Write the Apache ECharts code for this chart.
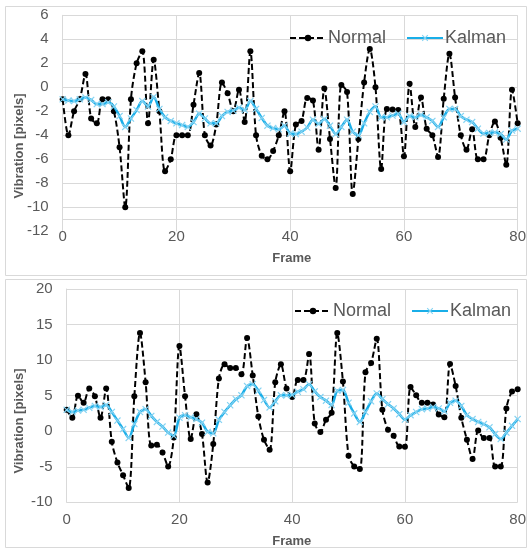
<!DOCTYPE html>
<html>
<head>
<meta charset="utf-8">
<script src="https://cdn.jsdelivr.net/npm/echarts@6/dist/echarts.min.js"></script>
<style>
html,body{margin:0;padding:0;background:#fff;}
#c{width:529px;height:548px;}
</style>
</head>
<body>
<div id="c"></div>
<script>
// Frame index 0..80 is the x value of each point
var topNormal = [-1,-4,-2,-1,1.1,-2.6,-3,-1,-1,-2,-5,-10,-1,2,3,-3,2.3,-2,-7,-6,
  -4,-4,-4,-1.45,1.2,-4,-4.85,-3.1,0.4,-0.5,-2,-0.2,-2.9,3,-4,-5.7,-6,-5.3,-4,-2,
  -7,-3.1,-2.8,-0.9,-1.1,-5.2,-0.1,-4.3,-8.4,0.2,-0.4,-8.9,-4.3,0.4,3.2,0,-6.8,-1.8,-1.85,-1.9,
  -5.75,0.3,-3.3,-0.85,-3.45,-4,-5.8,-0.95,2.8,-0.85,-4,-5.2,-3.5,-6,-6,-4,-2.85,-4.2,-6.45,-0.2,-3];
var topKalman = [-1,-1.1,-1.15,-1.0,-0.85,-1.05,-1.4,-1.4,-1.25,-1.6,-2.4,-3.3,-2.6,-1.9,-1.15,-1.6,-0.8,-1.8,-2.5,-2.8,
  -3.0,-3.15,-3.3,-2.9,-2.2,-2.6,-3.0,-3.0,-2.4,-2.05,-1.95,-1.7,-1.9,-1.15,-1.8,-2.55,-3.2,-3.4,-3.5,-3.2,
  -3.85,-3.9,-3.7,-3.35,-2.7,-3.05,-2.65,-3.2,-3.9,-3.3,-2.7,-3.7,-4.0,-3.0,-2.05,-1.6,-2.5,-2.5,-2.35,-2.2,
  -2.9,-2.4,-2.5,-2.3,-2.5,-2.8,-3.3,-2.5,-1.8,-1.8,-2.4,-2.7,-2.9,-3.45,-3.85,-3.8,-3.75,-3.9,-4.35,-3.6,-3.45];
var botNormal = [3.0,1.9,5,4,6,4.9,1.9,6,-1.5,-4.4,-6.2,-8,4.9,13.8,6.9,-2,-1.9,-3,-4.95,-0.9,
  12,4.9,-1.1,2.4,-0.4,-7.2,-1.8,7.4,9.4,8.9,8.9,8.0,13.1,7.85,2.05,-1.2,-2.6,6.9,9.4,6.0,
  4.8,7.2,7.2,10.85,1.1,-0.1,1.6,2.6,13.8,7.0,-3.45,-4.95,-5.3,8.3,9.6,13.0,3.0,0.2,-0.65,-2.15,
  -2.2,6.2,5.05,4.0,4.0,3.75,2.35,1.95,9.45,6.35,1.9,-1.2,-3.9,0.1,-0.95,-0.95,-4.95,-4.95,3.2,5.6,5.9];
var botKalman = [3.0,2.7,2.9,3.0,3.3,3.55,3.4,3.7,2.7,1.5,0.3,-0.95,1.0,2.7,3.1,2.15,1.3,0.65,-0.2,-0.65,
  1.9,2.25,1.95,1.7,1.2,-0.1,-0.3,1.6,2.7,3.65,4.5,5.05,6.35,6.6,5.7,4.4,3.35,4.2,5.05,5.05,
  5.1,5.55,5.9,6.6,5.6,4.8,4.3,3.7,5.7,5.8,4.0,2.5,1.3,2.7,4.2,5.3,4.5,3.8,3.2,2.4,
  1.65,2.25,2.7,3.1,3.2,3.4,3.2,2.8,4.0,4.3,3.55,2.25,1.7,1.3,1.0,0.55,-0.4,-1.1,-0.2,0.75,1.7];
var seriesNames = ['Normal', 'Kalman'];
var xTitle = 'Frame';
var yTitle = 'Vibration [pixels]';
var topY = {min: -12, max: 6, interval: 2};
var botY = {min: -10, max: 20, interval: 5};
var xRange = {min: 0, max: 80, interval: 20};

function pairs(arr){ return arr.map(function(v,i){ return [i, v]; }); }

var txt = '#595959', grid = '#d9d9d9', font = 'Liberation Sans';
var blue = '#19aee8', blueMark = '#86d3f2';
var xMark = 'path://M0,1.2L1.2,0L5,3.8L8.8,0L10,1.2L6.2,5L10,8.8L8.8,10L5,6.2L1.2,10L0,8.8L3.8,5Z';

function xAxis(gi, margin, showLine){
  return {type:'value', gridIndex:gi, min:xRange.min, max:xRange.max, interval:xRange.interval,
    axisLine:{show:showLine, lineStyle:{color:grid}}, axisTick:{show:false},
    axisLabel:{color:txt, fontSize:15, fontFamily:font, margin:margin},
    splitLine:{show:true, lineStyle:{color:grid, width:1}}};
}
function yAxis(gi, r, colors){
  return {type:'value', gridIndex:gi, min:r.min, max:r.max, interval:r.interval,
    axisLine:{show:true, lineStyle:{color:grid}}, axisTick:{show:false},
    axisLabel:{color:txt, fontSize:15, fontFamily:font, margin:14},
    splitLine:{show:true, lineStyle:{color:colors, width:1}}};
}
var topSplitColors = ['rgba(0,0,0,0)'];
for (var k=0;k<9;k++) topSplitColors.push(grid);

function normalSeries(gi, data, extra){
  var s = {name:seriesNames[0], type:'line', xAxisIndex:gi, yAxisIndex:gi, data:pairs(data),
    smooth:0.3, symbol:'circle', symbolSize:6, showSymbol:true,
    lineStyle:{color:'#000', width:2, type:[6,3]}, itemStyle:{color:'#000'}, z:2};
  if (extra) for (var key in extra) s[key] = extra[key];
  return s;
}
function kalmanSeries(gi, data){
  return {name:seriesNames[1], type:'line', xAxisIndex:gi, yAxisIndex:gi, data:pairs(data),
    smooth:0.3, symbol:xMark, symbolSize:7, showSymbol:true,
    lineStyle:{color:blue, width:2.5}, itemStyle:{color:blueMark}, z:3};
}
function legend(left, top){
  return {left:left, top:top, data:seriesNames, itemWidth:36, itemHeight:8, itemGap:20,
    textStyle:{color:txt, fontSize:18, fontFamily:font, padding:[0,0,0,-3]}, selectedMode:false};
}

var chart = echarts.init(document.getElementById('c'), null, {renderer:'canvas'});
chart.setOption({
  animation:false,
  backgroundColor:'#fff',
  grid:[
    {left:62.7, top:15.3, width:456.3, height:216},
    {left:66.7, top:289, width:451.6, height:213.3}
  ],
  xAxis:[xAxis(0,-2,false), xAxis(1,10,true)],
  yAxis:[yAxis(0, topY, topSplitColors), yAxis(1, botY, grid)],
  legend:[legend(284,24), legend(289,297)],
  series:[
    normalSeries(0, topNormal, {markLine:{silent:true, symbol:'none', label:{show:false},
      lineStyle:{color:grid, type:'solid', width:1}, data:[{yAxis:-11}]}}),
    kalmanSeries(0, topKalman),
    normalSeries(1, botNormal),
    kalmanSeries(1, botKalman)
  ],
  graphic:[
    {type:'rect', shape:{x:5.5, y:6.5, width:521, height:269}, style:{fill:null, stroke:grid, lineWidth:1}, silent:true},
    {type:'rect', shape:{x:5.5, y:279.5, width:521, height:268}, style:{fill:null, stroke:grid, lineWidth:1}, silent:true},
    {type:'text', x:19, y:146, rotation:Math.PI/2, style:{text:yTitle, fill:txt, font:'bold 13px "Liberation Sans"', textAlign:'center', textVerticalAlign:'middle'}},
    {type:'text', x:19, y:421, rotation:Math.PI/2, style:{text:yTitle, fill:txt, font:'bold 13px "Liberation Sans"', textAlign:'center', textVerticalAlign:'middle'}},
    {type:'text', x:291.7, y:258, style:{text:xTitle, fill:txt, font:'bold 13px "Liberation Sans"', textAlign:'center', textVerticalAlign:'middle'}},
    {type:'text', x:291.7, y:541.5, style:{text:xTitle, fill:txt, font:'bold 13px "Liberation Sans"', textAlign:'center', textVerticalAlign:'middle'}}
  ]
});
</script>
</body>
</html>
